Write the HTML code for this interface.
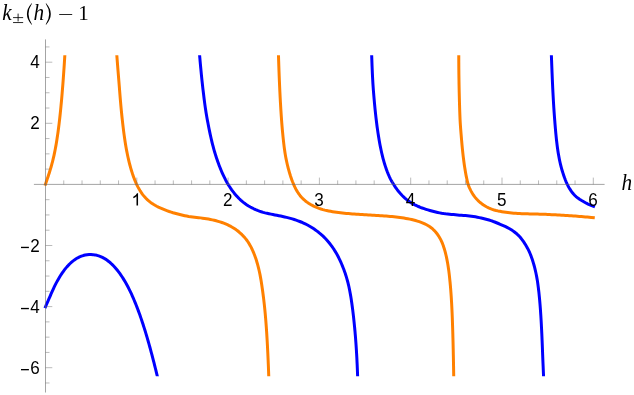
<!DOCTYPE html>
<html><head><meta charset="utf-8"><title>plot</title><style>
html,body{margin:0;padding:0;background:#fff;overflow:hidden;}
svg{display:block;will-change:transform;}
.ax line{stroke:#666;stroke-width:0.45;}
.ax line.m{stroke-width:0.6;}
.lab text{font-family:"Liberation Sans",sans-serif;font-size:18px;fill:#000;}
.c{fill:none;stroke-width:3.0;stroke-linecap:square;stroke-linejoin:round;}
.o{stroke:#ff8000;}
.b{stroke:#0000ff;}
.t{font-family:"Liberation Serif",serif;fill:#000;}
</style></head><body>
<svg width="634" height="395" viewBox="0 0 634 395">
<rect width="634" height="395" fill="#fff"/>
<defs><clipPath id="cp"><rect x="0" y="55.3" width="634" height="321.0"/></clipPath></defs>
<g clip-path="url(#cp)">
<path class="c b" d="M45.50 306.78 L46.28 304.94 L47.07 303.10 L47.88 301.28 L48.68 299.45 L49.48 297.63 L50.27 295.80 L51.05 293.96 L51.85 292.14 L52.67 290.33 L53.50 288.52 L54.36 286.72 L55.24 284.94 L56.15 283.17 L57.09 281.41 L58.05 279.67 L59.05 277.95 L60.08 276.24 L61.14 274.56 L62.25 272.91 L63.40 271.28 L64.59 269.69 L65.83 268.13 L67.12 266.62 L68.47 265.15 L69.87 263.74 L71.33 262.39 L72.85 261.11 L74.44 259.92 L76.09 258.82 L77.81 257.82 L79.58 256.94 L81.41 256.18 L83.28 255.55 L85.19 255.07 L87.12 254.73 L89.08 254.54 L91.04 254.51 L93.00 254.63 L94.94 254.90 L96.87 255.32 L98.76 255.88 L100.61 256.57 L102.41 257.38 L104.16 258.32 L105.85 259.35 L107.48 260.48 L109.05 261.70 L110.57 262.99 L112.03 264.34 L113.44 265.75 L114.79 267.21 L116.10 268.71 L117.37 270.25 L118.59 271.82 L119.78 273.43 L120.92 275.06 L122.03 276.72 L123.11 278.40 L124.15 280.10 L125.17 281.82 L126.15 283.55 L127.11 285.30 L128.05 287.07 L128.96 288.84 L129.84 290.63 L130.71 292.43 L131.55 294.24 L132.38 296.06 L133.18 297.88 L133.97 299.72 L134.74 301.56 L135.49 303.41 L136.23 305.26 L136.96 307.12 L137.67 308.99 L138.37 310.85 L139.06 312.73 L139.74 314.61 L140.40 316.49 L141.05 318.38 L141.69 320.27 L142.33 322.16 L142.95 324.06 L143.56 325.95 L144.17 327.86 L144.77 329.76 L145.36 331.67 L145.94 333.58 L146.51 335.49 L147.08 337.40 L147.64 339.32 L148.19 341.24 L148.73 343.16 L149.28 345.08 L149.81 347.00 L150.34 348.93 L150.86 350.85 L151.38 352.78 L151.89 354.71 L152.40 356.64 L152.91 358.57 L153.41 360.51 L153.90 362.44 L154.39 364.37 L154.88 366.31 L155.36 368.25 L155.84 370.18 L156.32 372.12 L156.80 374.06 L157.27 376.00 L158.69 381.83"/>
<path class="c b" d="M199.14 49.61 L199.64 55.59 L199.81 57.57 L199.98 59.56 L200.15 61.54 L200.33 63.53 L200.51 65.51 L200.69 67.50 L200.88 69.48 L201.07 71.47 L201.26 73.45 L201.46 75.43 L201.66 77.42 L201.87 79.40 L202.08 81.38 L202.30 83.36 L202.52 85.34 L202.74 87.33 L202.97 89.31 L203.21 91.29 L203.45 93.26 L203.69 95.24 L203.93 97.22 L204.17 99.20 L204.42 101.18 L204.68 103.16 L204.95 105.13 L205.23 107.11 L205.52 109.08 L205.82 111.05 L206.13 113.02 L206.47 114.99 L206.81 116.95 L207.16 118.92 L207.52 120.88 L207.89 122.84 L208.26 124.80 L208.64 126.75 L209.03 128.71 L209.43 130.66 L209.84 132.61 L210.26 134.56 L210.69 136.51 L211.13 138.46 L211.58 140.40 L212.04 142.34 L212.53 144.27 L213.03 146.20 L213.55 148.13 L214.08 150.05 L214.64 151.96 L215.21 153.87 L215.81 155.78 L216.42 157.67 L217.05 159.56 L217.70 161.44 L218.38 163.32 L219.07 165.18 L219.79 167.04 L220.53 168.88 L221.29 170.72 L222.08 172.54 L222.89 174.35 L223.74 176.15 L224.61 177.93 L225.50 179.70 L226.44 181.45 L227.40 183.17 L228.41 184.87 L229.46 186.54 L230.55 188.19 L231.68 189.80 L232.85 191.38 L234.06 192.92 L235.31 194.43 L236.60 195.90 L237.92 197.34 L239.30 198.74 L240.71 200.09 L242.18 201.39 L243.70 202.64 L245.27 203.82 L246.90 204.94 L248.57 205.99 L250.29 206.97 L252.05 207.90 L253.83 208.78 L255.64 209.61 L257.49 210.39 L259.35 211.11 L261.25 211.76 L263.16 212.34 L265.10 212.85 L267.04 213.30 L269.00 213.73 L270.95 214.14 L272.91 214.53 L274.86 214.92 L276.82 215.30 L278.78 215.69 L280.73 216.09 L282.68 216.50 L284.62 216.93 L286.56 217.38 L288.49 217.86 L290.41 218.37 L292.32 218.92 L294.22 219.50 L296.11 220.13 L297.98 220.79 L299.83 221.49 L301.67 222.24 L303.49 223.03 L305.28 223.87 L307.05 224.76 L308.79 225.70 L310.50 226.69 L312.18 227.73 L313.83 228.81 L315.45 229.94 L317.04 231.10 L318.60 232.31 L320.13 233.56 L321.62 234.85 L323.07 236.18 L324.48 237.56 L325.86 238.98 L327.19 240.44 L328.48 241.94 L329.73 243.47 L330.93 245.04 L332.09 246.64 L333.21 248.27 L334.30 249.93 L335.34 251.62 L336.35 253.33 L337.32 255.06 L338.25 256.82 L339.14 258.59 L340.00 260.39 L340.82 262.20 L341.62 264.02 L342.39 265.86 L343.13 267.71 L343.85 269.57 L344.53 271.45 L345.19 273.33 L345.81 275.23 L346.41 277.13 L346.97 279.05 L347.51 280.97 L348.01 282.91 L348.48 284.85 L348.92 286.79 L349.33 288.75 L349.73 290.70 L350.10 292.67 L350.45 294.63 L350.79 296.60 L351.11 298.57 L351.41 300.54 L351.70 302.51 L351.98 304.49 L352.25 306.47 L352.51 308.44 L352.76 310.42 L353.00 312.40 L353.24 314.38 L353.47 316.36 L353.69 318.35 L353.90 320.33 L354.11 322.31 L354.31 324.30 L354.51 326.28 L354.70 328.26 L354.88 330.25 L355.05 332.24 L355.22 334.22 L355.39 336.21 L355.55 338.20 L355.70 340.19 L355.85 342.17 L355.99 344.16 L356.13 346.15 L356.26 348.14 L356.39 350.13 L356.51 352.12 L356.63 354.11 L356.74 356.10 L356.85 358.09 L356.95 360.08 L357.04 362.08 L357.14 364.07 L357.22 366.06 L357.31 368.05 L357.39 370.04 L357.46 372.04 L357.54 374.03 L357.61 376.02 L357.82 382.02"/>
<path class="c b" d="M371.49 49.68 L371.69 55.67 L371.76 57.67 L371.83 59.66 L371.90 61.65 L371.97 63.64 L372.04 65.63 L372.12 67.63 L372.21 69.62 L372.29 71.61 L372.38 73.60 L372.48 75.59 L372.58 77.58 L372.69 79.57 L372.80 81.56 L372.92 83.55 L373.05 85.54 L373.19 87.53 L373.33 89.52 L373.48 91.50 L373.64 93.49 L373.81 95.48 L373.97 97.46 L374.15 99.45 L374.32 101.43 L374.50 103.42 L374.69 105.40 L374.88 107.39 L375.08 109.37 L375.29 111.35 L375.50 113.34 L375.72 115.32 L375.94 117.30 L376.17 119.28 L376.41 121.26 L376.66 123.23 L376.91 125.21 L377.17 127.19 L377.45 129.16 L377.73 131.14 L378.02 133.11 L378.32 135.08 L378.64 137.05 L378.97 139.01 L379.31 140.98 L379.66 142.94 L380.02 144.90 L380.41 146.85 L380.80 148.81 L381.22 150.76 L381.65 152.70 L382.10 154.64 L382.58 156.58 L383.07 158.51 L383.59 160.43 L384.13 162.35 L384.70 164.26 L385.30 166.16 L385.94 168.05 L386.60 169.93 L387.30 171.80 L388.04 173.65 L388.83 175.48 L389.65 177.29 L390.52 179.08 L391.44 180.85 L392.47 182.55 L393.55 184.23 L394.60 185.91 L395.69 187.57 L396.83 189.19 L398.02 190.78 L399.27 192.34 L400.58 193.84 L401.94 195.30 L403.37 196.70 L404.86 198.04 L406.40 199.33 L407.98 200.57 L409.61 201.75 L411.30 202.84 L413.05 203.86 L414.83 204.80 L416.64 205.69 L418.48 206.51 L420.34 207.28 L422.22 208.01 L424.12 208.68 L426.03 209.32 L427.95 209.92 L429.88 210.48 L431.81 211.02 L433.76 211.52 L435.71 211.99 L437.67 212.44 L439.63 212.85 L441.59 213.24 L443.57 213.57 L445.55 213.84 L447.54 214.06 L449.53 214.25 L451.53 214.43 L453.52 214.60 L455.51 214.79 L457.50 214.98 L459.49 215.13 L461.48 215.27 L463.48 215.40 L465.47 215.54 L467.46 215.71 L469.46 215.92 L471.44 216.18 L473.42 216.49 L475.39 216.83 L477.35 217.21 L479.31 217.62 L481.26 218.06 L483.21 218.52 L485.15 219.01 L487.09 219.52 L489.01 220.06 L490.93 220.64 L492.83 221.29 L494.70 222.00 L496.55 222.75 L498.39 223.51 L500.22 224.28 L502.04 225.07 L503.86 225.87 L505.66 226.71 L507.43 227.59 L509.17 228.53 L510.88 229.54 L512.54 230.61 L514.15 231.75 L515.71 232.96 L517.21 234.24 L518.63 235.60 L519.97 237.04 L521.23 238.55 L522.42 240.11 L523.55 241.70 L524.64 243.33 L525.69 244.99 L526.68 246.68 L527.63 248.40 L528.52 250.16 L529.36 251.94 L530.15 253.75 L530.89 255.59 L531.57 257.45 L532.22 259.32 L532.84 261.21 L533.42 263.11 L533.97 265.02 L534.49 266.94 L534.98 268.87 L535.44 270.81 L535.87 272.75 L536.28 274.70 L536.66 276.66 L537.01 278.62 L537.34 280.58 L537.64 282.56 L537.92 284.53 L538.18 286.50 L538.43 288.48 L538.67 290.46 L538.89 292.44 L539.10 294.42 L539.30 296.41 L539.50 298.39 L539.68 300.37 L539.85 302.36 L540.02 304.35 L540.18 306.33 L540.33 308.32 L540.47 310.31 L540.61 312.30 L540.74 314.28 L540.87 316.27 L540.99 318.26 L541.11 320.25 L541.22 322.24 L541.33 324.23 L541.43 326.22 L541.53 328.21 L541.63 330.20 L541.72 332.19 L541.82 334.18 L541.91 336.18 L541.99 338.17 L542.08 340.16 L542.16 342.15 L542.24 344.14 L542.32 346.13 L542.40 348.12 L542.47 350.11 L542.55 352.11 L542.62 354.10 L542.70 356.09 L542.78 358.08 L542.86 360.07 L542.94 362.06 L543.03 364.05 L543.12 366.05 L543.20 368.04 L543.29 370.03 L543.37 372.02 L543.46 374.01 L543.54 376.00 L543.79 382.00"/>
<path class="c b" d="M551.18 49.70 L551.40 55.70 L551.47 57.69 L551.54 59.68 L551.62 61.68 L551.69 63.67 L551.77 65.66 L551.85 67.65 L551.93 69.64 L552.00 71.64 L552.09 73.63 L552.17 75.62 L552.25 77.61 L552.34 79.60 L552.43 81.60 L552.52 83.59 L552.61 85.58 L552.70 87.57 L552.80 89.56 L552.90 91.55 L553.00 93.54 L553.10 95.54 L553.21 97.53 L553.32 99.52 L553.44 101.51 L553.55 103.50 L553.68 105.49 L553.80 107.48 L553.93 109.47 L554.06 111.46 L554.20 113.45 L554.35 115.44 L554.49 117.43 L554.65 119.41 L554.81 121.40 L554.96 123.39 L555.13 125.38 L555.29 127.37 L555.46 129.35 L555.64 131.34 L555.82 133.33 L556.02 135.32 L556.22 137.30 L556.42 139.29 L556.64 141.27 L556.88 143.26 L557.12 145.24 L557.38 147.22 L557.66 149.20 L557.95 151.18 L558.26 153.15 L558.59 155.12 L558.95 157.09 L559.32 159.06 L559.73 161.02 L560.17 162.97 L560.63 164.92 L561.13 166.86 L561.66 168.79 L562.21 170.72 L562.80 172.64 L563.42 174.54 L564.07 176.44 L564.75 178.33 L565.47 180.20 L566.24 182.06 L567.06 183.89 L567.95 185.70 L568.91 187.46 L569.94 189.19 L571.05 190.87 L572.24 192.49 L573.51 194.04 L574.87 195.51 L576.35 196.86 L577.90 198.10 L579.53 199.24 L581.21 200.28 L582.91 201.27 L584.61 202.24 L586.32 203.19 L588.07 204.06 L589.85 204.87 L591.67 205.62 L593.51 206.33"/>
<path class="c o" d="M45.50 184.20 L46.13 182.33 L46.76 180.45 L47.39 178.58 L48.02 176.71 L48.64 174.83 L49.25 172.95 L49.84 171.07 L50.42 169.18 L50.98 167.28 L51.52 165.38 L52.03 163.48 L52.53 161.56 L53.00 159.64 L53.46 157.72 L53.90 155.80 L54.31 153.86 L54.72 151.93 L55.10 149.99 L55.47 148.05 L55.82 146.11 L56.16 144.16 L56.49 142.21 L56.81 140.26 L57.11 138.31 L57.41 136.35 L57.69 134.40 L57.97 132.44 L58.23 130.48 L58.49 128.52 L58.74 126.56 L58.99 124.60 L59.22 122.64 L59.45 120.68 L59.68 118.72 L59.89 116.75 L60.11 114.79 L60.31 112.82 L60.52 110.86 L60.71 108.89 L60.91 106.92 L61.09 104.96 L61.28 102.99 L61.46 101.02 L61.64 99.05 L61.81 97.09 L61.98 95.12 L62.15 93.15 L62.31 91.18 L62.47 89.21 L62.63 87.24 L62.78 85.27 L62.93 83.30 L63.08 81.33 L63.23 79.36 L63.37 77.39 L63.51 75.42 L63.65 73.45 L63.79 71.47 L63.92 69.50 L64.06 67.53 L64.19 65.56 L64.32 63.59 L64.44 61.62 L64.57 59.64 L64.69 57.67 L64.81 55.70 L65.19 49.71"/>
<path class="c o" d="M116.41 49.74 L116.85 55.73 L117.00 57.72 L117.15 59.72 L117.30 61.71 L117.46 63.70 L117.62 65.70 L117.77 67.69 L117.93 69.68 L118.10 71.67 L118.26 73.67 L118.42 75.66 L118.58 77.65 L118.74 79.64 L118.91 81.64 L119.07 83.63 L119.23 85.62 L119.39 87.61 L119.54 89.61 L119.70 91.60 L119.86 93.59 L120.02 95.58 L120.18 97.57 L120.35 99.57 L120.52 101.56 L120.69 103.55 L120.87 105.54 L121.05 107.53 L121.24 109.52 L121.43 111.51 L121.63 113.50 L121.83 115.49 L122.04 117.47 L122.25 119.46 L122.47 121.45 L122.70 123.43 L122.93 125.42 L123.17 127.40 L123.41 129.39 L123.66 131.37 L123.92 133.35 L124.19 135.33 L124.46 137.31 L124.75 139.29 L125.04 141.27 L125.35 143.24 L125.68 145.21 L126.02 147.18 L126.37 149.15 L126.74 151.11 L127.12 153.08 L127.52 155.03 L127.94 156.99 L128.38 158.94 L128.83 160.88 L129.31 162.82 L129.81 164.75 L130.33 166.68 L130.87 168.60 L131.44 170.51 L132.03 172.41 L132.65 174.31 L133.31 176.19 L133.99 178.05 L134.71 179.91 L135.47 181.74 L136.27 183.56 L137.11 185.35 L138.01 187.11 L138.97 188.84 L139.98 190.53 L141.04 192.18 L142.16 193.79 L143.34 195.35 L144.59 196.84 L145.90 198.27 L147.28 199.63 L148.72 200.92 L150.22 202.12 L151.77 203.25 L153.37 204.31 L155.02 205.30 L156.70 206.22 L158.42 207.09 L160.17 207.91 L161.95 208.68 L163.74 209.43 L165.57 210.15 L167.41 210.84 L169.27 211.50 L171.16 212.12 L173.06 212.71 L174.98 213.26 L176.90 213.79 L178.84 214.30 L180.79 214.79 L182.74 215.26 L184.71 215.69 L186.68 216.08 L188.66 216.43 L190.65 216.72 L192.64 216.97 L194.63 217.19 L196.61 217.41 L198.59 217.64 L200.57 217.88 L202.55 218.14 L204.52 218.44 L206.48 218.76 L208.44 219.10 L210.39 219.48 L212.33 219.89 L214.27 220.33 L216.19 220.81 L218.10 221.33 L220.00 221.90 L221.88 222.52 L223.73 223.19 L225.57 223.93 L227.37 224.72 L229.15 225.56 L230.91 226.46 L232.62 227.43 L234.30 228.47 L235.93 229.58 L237.51 230.77 L239.04 232.02 L240.54 233.33 L241.98 234.70 L243.37 236.13 L244.71 237.62 L245.98 239.17 L247.20 240.77 L248.34 242.43 L249.41 244.14 L250.40 245.89 L251.33 247.68 L252.20 249.50 L253.03 251.34 L253.81 253.19 L254.54 255.07 L255.24 256.96 L255.90 258.86 L256.52 260.78 L257.10 262.70 L257.65 264.64 L258.17 266.58 L258.66 268.53 L259.12 270.48 L259.55 272.45 L259.96 274.41 L260.33 276.38 L260.69 278.36 L261.03 280.34 L261.35 282.32 L261.65 284.30 L261.95 286.28 L262.24 288.26 L262.52 290.24 L262.80 292.23 L263.06 294.21 L263.32 296.20 L263.56 298.19 L263.80 300.17 L264.03 302.16 L264.26 304.15 L264.47 306.14 L264.68 308.13 L264.88 310.12 L265.07 312.11 L265.26 314.11 L265.43 316.10 L265.61 318.09 L265.77 320.08 L265.93 322.08 L266.08 324.07 L266.23 326.07 L266.37 328.06 L266.51 330.06 L266.64 332.05 L266.77 334.05 L266.89 336.05 L267.01 338.04 L267.12 340.04 L267.24 342.03 L267.34 344.03 L267.45 346.03 L267.55 348.02 L267.65 350.02 L267.75 352.02 L267.85 354.02 L267.94 356.01 L268.03 358.01 L268.12 360.01 L268.20 362.00 L268.29 364.00 L268.37 366.00 L268.45 368.00 L268.52 369.99 L268.60 371.99 L268.67 373.99 L268.74 375.99 L268.96 381.98"/>
<path class="c o" d="M278.30 49.70 L278.48 55.70 L278.55 57.69 L278.61 59.68 L278.68 61.67 L278.74 63.66 L278.81 65.65 L278.88 67.64 L278.95 69.63 L279.02 71.62 L279.10 73.61 L279.17 75.60 L279.25 77.59 L279.33 79.58 L279.42 81.57 L279.50 83.56 L279.59 85.55 L279.68 87.53 L279.77 89.52 L279.86 91.51 L279.96 93.50 L280.06 95.49 L280.16 97.48 L280.27 99.47 L280.37 101.46 L280.49 103.44 L280.60 105.43 L280.72 107.42 L280.84 109.41 L280.97 111.39 L281.10 113.38 L281.23 115.37 L281.37 117.35 L281.51 119.34 L281.66 121.32 L281.81 123.31 L281.97 125.29 L282.14 127.28 L282.31 129.26 L282.49 131.25 L282.67 133.23 L282.86 135.21 L283.06 137.19 L283.27 139.17 L283.49 141.15 L283.71 143.13 L283.95 145.11 L284.19 147.08 L284.45 149.06 L284.73 151.03 L285.03 153.00 L285.36 154.96 L285.71 156.92 L286.08 158.87 L286.48 160.82 L286.91 162.77 L287.35 164.71 L287.83 166.64 L288.32 168.56 L288.84 170.48 L289.38 172.38 L289.96 174.28 L290.55 176.17 L291.18 178.04 L291.85 179.90 L292.55 181.74 L293.29 183.56 L294.06 185.37 L294.89 187.15 L295.77 188.90 L296.72 190.61 L297.74 192.27 L298.82 193.89 L299.99 195.44 L301.23 196.93 L302.55 198.35 L303.95 199.70 L305.42 200.95 L306.96 202.13 L308.57 203.22 L310.21 204.25 L311.91 205.21 L313.65 206.10 L315.43 206.92 L317.25 207.68 L319.10 208.38 L320.97 209.01 L322.87 209.58 L324.79 210.09 L326.72 210.54 L328.67 210.96 L330.62 211.34 L332.58 211.69 L334.55 212.01 L336.52 212.30 L338.50 212.56 L340.48 212.80 L342.46 213.02 L344.44 213.22 L346.43 213.40 L348.42 213.57 L350.40 213.74 L352.39 213.89 L354.38 214.04 L356.36 214.18 L358.35 214.31 L360.34 214.45 L362.33 214.57 L364.31 214.70 L366.30 214.82 L368.29 214.94 L370.27 215.06 L372.26 215.18 L374.25 215.30 L376.23 215.42 L378.22 215.54 L380.20 215.67 L382.18 215.80 L384.16 215.94 L386.15 216.09 L388.13 216.25 L390.10 216.42 L392.08 216.60 L394.06 216.80 L396.03 217.01 L398.00 217.24 L399.97 217.50 L401.93 217.77 L403.89 218.07 L405.85 218.40 L407.80 218.75 L409.74 219.14 L411.67 219.56 L413.60 220.03 L415.51 220.53 L417.40 221.08 L419.28 221.69 L421.14 222.35 L422.97 223.08 L424.77 223.88 L426.52 224.75 L428.23 225.72 L429.87 226.79 L431.44 227.96 L432.92 229.23 L434.32 230.58 L435.63 232.01 L436.86 233.51 L438.01 235.08 L439.07 236.70 L440.06 238.39 L440.96 240.12 L441.78 241.89 L442.54 243.70 L443.23 245.54 L443.86 247.41 L444.45 249.29 L444.99 251.19 L445.50 253.10 L445.96 255.02 L446.40 256.95 L446.81 258.89 L447.19 260.84 L447.55 262.79 L447.89 264.75 L448.20 266.72 L448.49 268.68 L448.77 270.65 L449.02 272.62 L449.26 274.60 L449.48 276.57 L449.69 278.55 L449.89 280.53 L450.09 282.51 L450.27 284.50 L450.44 286.48 L450.61 288.46 L450.77 290.45 L450.92 292.43 L451.06 294.42 L451.20 296.40 L451.33 298.39 L451.45 300.38 L451.57 302.37 L451.68 304.35 L451.78 306.34 L451.88 308.33 L451.98 310.32 L452.07 312.31 L452.15 314.30 L452.23 316.29 L452.31 318.28 L452.38 320.27 L452.45 322.26 L452.52 324.25 L452.58 326.24 L452.65 328.23 L452.71 330.22 L452.77 332.21 L452.83 334.20 L452.88 336.19 L452.94 338.18 L452.99 340.17 L453.04 342.16 L453.09 344.15 L453.14 346.14 L453.18 348.13 L453.23 350.12 L453.27 352.11 L453.31 354.10 L453.36 356.09 L453.40 358.08 L453.43 360.07 L453.47 362.06 L453.51 364.06 L453.55 366.05 L453.58 368.04 L453.62 370.03 L453.65 372.02 L453.68 374.01 L453.72 376.00 L453.81 382.00"/>
<path class="c o" d="M458.76 49.70 L458.77 55.70 L458.77 57.69 L458.78 59.68 L458.78 61.67 L458.80 63.66 L458.81 65.65 L458.82 67.64 L458.84 69.63 L458.86 71.62 L458.88 73.61 L458.91 75.61 L458.94 77.60 L458.97 79.59 L459.00 81.58 L459.03 83.57 L459.07 85.56 L459.11 87.55 L459.15 89.54 L459.19 91.53 L459.24 93.52 L459.29 95.51 L459.34 97.50 L459.39 99.49 L459.44 101.48 L459.50 103.47 L459.56 105.46 L459.62 107.45 L459.68 109.44 L459.75 111.43 L459.82 113.42 L459.89 115.41 L459.97 117.40 L460.05 119.39 L460.16 121.38 L460.28 123.37 L460.41 125.36 L460.55 127.34 L460.70 129.33 L460.86 131.31 L461.02 133.30 L461.19 135.28 L461.35 137.27 L461.51 139.25 L461.68 141.23 L461.85 143.22 L462.03 145.20 L462.22 147.18 L462.42 149.16 L462.63 151.13 L462.84 153.11 L463.06 155.08 L463.30 157.06 L463.54 159.03 L463.79 161.00 L464.06 162.96 L464.33 164.93 L464.62 166.89 L464.93 168.85 L465.25 170.80 L465.59 172.75 L465.94 174.69 L466.32 176.62 L466.73 178.55 L467.16 180.47 L467.60 182.38 L468.08 184.28 L468.70 186.14 L469.47 187.93 L470.33 189.67 L471.22 191.37 L472.15 193.04 L473.14 194.63 L474.21 196.16 L475.34 197.62 L476.55 199.01 L477.82 200.33 L479.16 201.58 L480.56 202.77 L482.02 203.92 L483.56 205.02 L485.16 206.05 L486.84 207.01 L488.58 207.90 L490.38 208.69 L492.23 209.38 L494.13 209.96 L496.05 210.46 L497.99 210.91 L499.94 211.31 L501.90 211.68 L503.86 212.02 L505.84 212.32 L507.81 212.59 L509.79 212.83 L511.78 213.04 L513.77 213.21 L515.76 213.36 L517.75 213.48 L519.74 213.59 L521.73 213.67 L523.72 213.74 L525.71 213.80 L527.70 213.85 L529.70 213.90 L531.69 213.94 L533.68 213.98 L535.67 214.03 L537.66 214.07 L539.65 214.13 L541.64 214.19 L543.63 214.26 L545.62 214.34 L547.61 214.44 L549.60 214.53 L551.59 214.63 L553.57 214.73 L555.56 214.83 L557.55 214.94 L559.54 215.05 L561.53 215.16 L563.51 215.28 L565.50 215.40 L567.49 215.53 L569.48 215.66 L571.46 215.79 L573.45 215.94 L575.43 216.08 L577.42 216.23 L579.40 216.39 L581.39 216.55 L583.37 216.72 L585.36 216.90 L587.34 217.08 L589.32 217.26 L591.30 217.46 L593.28 217.65"/>
</g>
<g class="ax">
<line class="m" x1="33.9" y1="184.4" x2="604.6" y2="184.4"/>
<line class="m" x1="45.5" y1="39.4" x2="45.5" y2="392.5"/>
<line x1="63.76" y1="184.40" x2="63.76" y2="180.40"/>
<line x1="82.02" y1="184.40" x2="82.02" y2="180.40"/>
<line x1="100.28" y1="184.40" x2="100.28" y2="180.40"/>
<line x1="118.54" y1="184.40" x2="118.54" y2="180.40"/>
<line x1="136.80" y1="184.40" x2="136.80" y2="177.60"/>
<line x1="155.06" y1="184.40" x2="155.06" y2="180.40"/>
<line x1="173.32" y1="184.40" x2="173.32" y2="180.40"/>
<line x1="191.58" y1="184.40" x2="191.58" y2="180.40"/>
<line x1="209.84" y1="184.40" x2="209.84" y2="180.40"/>
<line x1="228.10" y1="184.40" x2="228.10" y2="177.60"/>
<line x1="246.36" y1="184.40" x2="246.36" y2="180.40"/>
<line x1="264.62" y1="184.40" x2="264.62" y2="180.40"/>
<line x1="282.88" y1="184.40" x2="282.88" y2="180.40"/>
<line x1="301.14" y1="184.40" x2="301.14" y2="180.40"/>
<line x1="319.40" y1="184.40" x2="319.40" y2="177.60"/>
<line x1="337.66" y1="184.40" x2="337.66" y2="180.40"/>
<line x1="355.92" y1="184.40" x2="355.92" y2="180.40"/>
<line x1="374.18" y1="184.40" x2="374.18" y2="180.40"/>
<line x1="392.44" y1="184.40" x2="392.44" y2="180.40"/>
<line x1="410.70" y1="184.40" x2="410.70" y2="177.60"/>
<line x1="428.96" y1="184.40" x2="428.96" y2="180.40"/>
<line x1="447.22" y1="184.40" x2="447.22" y2="180.40"/>
<line x1="465.48" y1="184.40" x2="465.48" y2="180.40"/>
<line x1="483.74" y1="184.40" x2="483.74" y2="180.40"/>
<line x1="502.00" y1="184.40" x2="502.00" y2="177.60"/>
<line x1="520.26" y1="184.40" x2="520.26" y2="180.40"/>
<line x1="538.52" y1="184.40" x2="538.52" y2="180.40"/>
<line x1="556.78" y1="184.40" x2="556.78" y2="180.40"/>
<line x1="575.04" y1="184.40" x2="575.04" y2="180.40"/>
<line x1="593.30" y1="184.40" x2="593.30" y2="177.60"/>
<line x1="45.50" y1="382.98" x2="49.50" y2="382.98"/>
<line x1="45.50" y1="367.70" x2="52.30" y2="367.70"/>
<line x1="45.50" y1="352.43" x2="49.50" y2="352.43"/>
<line x1="45.50" y1="337.15" x2="49.50" y2="337.15"/>
<line x1="45.50" y1="321.88" x2="49.50" y2="321.88"/>
<line x1="45.50" y1="306.60" x2="52.30" y2="306.60"/>
<line x1="45.50" y1="291.32" x2="49.50" y2="291.32"/>
<line x1="45.50" y1="276.05" x2="49.50" y2="276.05"/>
<line x1="45.50" y1="260.77" x2="49.50" y2="260.77"/>
<line x1="45.50" y1="245.50" x2="52.30" y2="245.50"/>
<line x1="45.50" y1="230.23" x2="49.50" y2="230.23"/>
<line x1="45.50" y1="214.95" x2="49.50" y2="214.95"/>
<line x1="45.50" y1="199.68" x2="49.50" y2="199.68"/>
<line x1="45.50" y1="169.12" x2="49.50" y2="169.12"/>
<line x1="45.50" y1="153.85" x2="49.50" y2="153.85"/>
<line x1="45.50" y1="138.57" x2="49.50" y2="138.57"/>
<line x1="45.50" y1="123.30" x2="52.30" y2="123.30"/>
<line x1="45.50" y1="108.03" x2="49.50" y2="108.03"/>
<line x1="45.50" y1="92.75" x2="49.50" y2="92.75"/>
<line x1="45.50" y1="77.48" x2="49.50" y2="77.48"/>
<line x1="45.50" y1="62.20" x2="52.30" y2="62.20"/>
<line x1="45.50" y1="46.93" x2="49.50" y2="46.93"/>
</g>
<g class="lab">
<path d="M138.05 193.2V205.6H136.5V196.2Q135.2 197.5 133.3 198.2V196.8Q135.9 195.7 137 193.2Z"/>
<text transform="translate(227.80,205.80) scale(0.95,1)" text-anchor="middle">2</text>
<text transform="translate(319.10,205.80) scale(0.95,1)" text-anchor="middle">3</text>
<text transform="translate(410.40,205.80) scale(0.95,1)" text-anchor="middle">4</text>
<text transform="translate(501.70,205.80) scale(0.95,1)" text-anchor="middle">5</text>
<text transform="translate(593.00,205.80) scale(0.95,1)" text-anchor="middle">6</text>
<text transform="translate(39.80,68.20) scale(0.95,1)" text-anchor="end">4</text>
<text transform="translate(39.80,129.30) scale(0.95,1)" text-anchor="end">2</text>
<text transform="translate(39.80,251.50) scale(0.95,1)" text-anchor="end">2</text>
<line x1="21.00" y1="247.45" x2="28.90" y2="247.45" stroke="#000" stroke-width="1.35"/>
<text transform="translate(39.80,312.60) scale(0.95,1)" text-anchor="end">4</text>
<line x1="21.00" y1="308.55" x2="28.90" y2="308.55" stroke="#000" stroke-width="1.35"/>
<text transform="translate(39.80,373.70) scale(0.95,1)" text-anchor="end">6</text>
<line x1="21.00" y1="369.65" x2="28.90" y2="369.65" stroke="#000" stroke-width="1.35"/>
</g>
<g class="t">
<text transform="translate(2.2,19.6) scale(0.95,1)" font-size="22.4" font-style="italic">k</text>
<g stroke="#000" stroke-width="0.85" fill="none"><path d="M13.05 17.6H23.15M18.1 13.6V21.4M13.05 22.55H23.15"/></g>
<path d="M31.6 3.3Q22.2 14.05 31.6 24.8L32 24.5Q25 14.05 32 3.6Z"/>
<text transform="translate(33.5,19.6) scale(0.95,1)" font-size="22.4" font-style="italic">h</text>
<path d="M46.1 3.3Q55.5 14.05 46.1 24.8L45.7 24.5Q52.7 14.05 45.7 3.6Z"/>
<path d="M59.2 14.5H72.2" stroke="#000" stroke-width="0.85" fill="none"/>
<text x="78.3" y="19.6" font-size="21">1</text>
<text transform="translate(621.5,189.5) scale(0.95,1)" font-size="22.4" font-style="italic">h</text>
</g>

</svg>
</body></html>
